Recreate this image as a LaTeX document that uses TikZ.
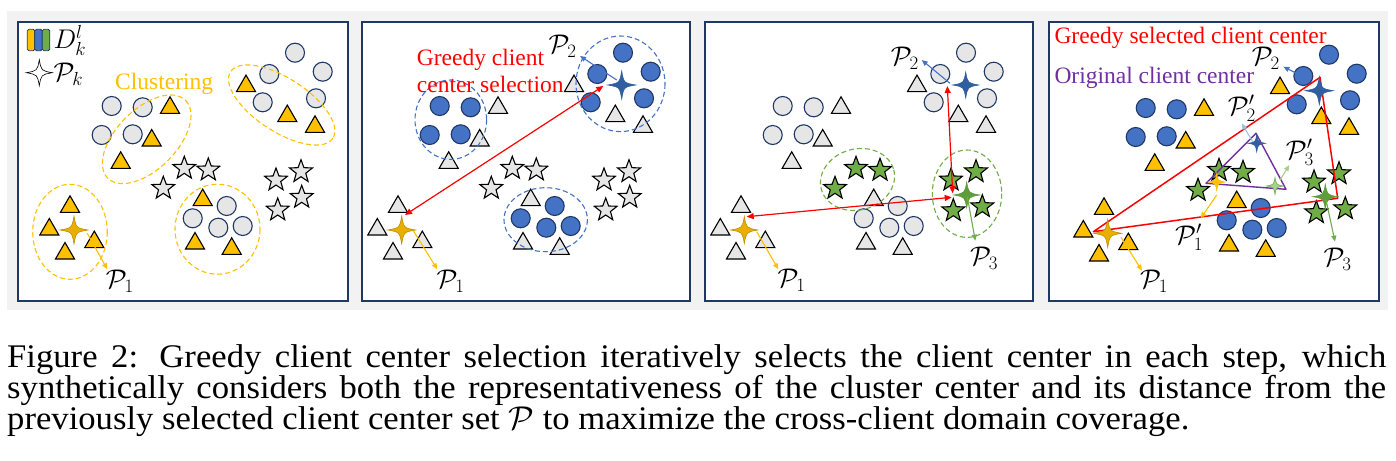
\RequirePackage{fix-cm}
\documentclass[tikz,border=0pt]{standalone}
\usepackage{fontspec}
\setmainfont{Liberation Serif}
\newfontfamily\notefont{Liberation Serif}
\newfontfamily\figcapfont[FakeStretch=1.05]{Liberation Serif}
\usetikzlibrary{shapes.geometric, arrows.meta, calc}
\lineskiplimit=-50pt

\definecolor{framenavy}{HTML}{203864}
\definecolor{bggray}{HTML}{F2F2F2}
\definecolor{dotgray}{HTML}{E7E6E6}
\definecolor{clustorange}{HTML}{FFC000}
\definecolor{clientblue}{HTML}{4472C4}
\definecolor{stargreen}{HTML}{70AD47}
\definecolor{greedyred}{HTML}{FF0000}
\definecolor{origpurple}{HTML}{7030A0}
\definecolor{sparkgold}{HTML}{E8AE00}
\definecolor{darkgold}{HTML}{BF9000}
\definecolor{sparkblue}{HTML}{2F5F9E}
\definecolor{sparkgreen}{HTML}{5E9C3C}
\definecolor{paleblue}{HTML}{9DC3E6}
\definecolor{palegreen}{HTML}{A9D18E}

% point layouts shared by the four panels
\newcommand{\dotpts}{295.0/52.7, 322.7/71.7, 269.3/74.0, 316.0/98.3, 262.7/102.3, 111.7/106.0, 142.7/107.3, 101.7/135.0, 132.7/134.3, 226.7/206.0, 192.7/218.3, 218.3/227.7, 242.7/226.0}
\newcommand{\tripts}{246.0/83.3, 287.3/113.3, 315.0/124.0, 170.0/105.0, 151.7/137.7, 120.7/160.0, 202.7/197.3, 195.0/240.7, 231.7/246.0, 70.0/204.0, 49.3/226.7, 94.3/239.3, 65.0/250.7}
\newcommand{\starpts}{184.3/168.3, 208.3/170.0, 163.3/188.3, 276.0/180.0, 301.0/171.7, 301.7/197.3, 277.7/210.0}
\newcommand{\movedstarpts}{185/168.3, 209/170.3, 164/188.3, 280/180, 305/171.7, 311.3/206.7, 282.3/210.7}

\tikzset{
  client/.style={circle, draw=framenavy, line width=1.1pt, minimum size=19pt, inner sep=0pt},
  tri/.style={regular polygon, regular polygon sides=3, draw=black, line width=1.1pt, minimum size=22pt, inner sep=0pt, yshift=-2.8pt},
  fivestar/.style={star, star points=5, star point ratio=2.4, draw=black, line width=1.1pt, minimum size=24pt, inner sep=0pt},
  cluster/.style={dash pattern=on 5pt off 3pt, line width=1.1pt},
  ptr/.style={-{Triangle[length=6pt, width=5pt]}, line width=1.1pt},
  greedy/.style={{Triangle[length=7pt, width=6pt]}-{Triangle[length=7pt, width=6pt]}, line width=1.2pt, draw=greedyred},
  plabel/.style={anchor=base west, inner sep=0pt, font=\fontsize{27}{30}\selectfont},
  note/.style={anchor=base west, inner sep=0pt, font=\notefont\fontsize{23.5}{26}\selectfont},
  panelbox/.style={draw=framenavy, line width=1.6pt, fill=white},
  pics/spark/.style n args={3}{code={
    \filldraw[fill=#1, draw=#2, line width=0.6pt] (#3,0) .. controls (0.15*#3,0.15*#3) .. (0,#3)
      .. controls (-0.15*#3,0.15*#3) .. (-#3,0) .. controls (-0.15*#3,-0.15*#3) .. (0,-#3)
      .. controls (0.15*#3,-0.15*#3) .. (#3,0) -- cycle;
  }}
}

\begin{document}
\begin{tikzpicture}[x=1pt, y=-1pt]
  \useasboundingbox (0,0) rectangle (1396,460);

  % Gray backdrop and panel frames
  \fill[bggray] (7,11) rectangle (1388,310);
  \draw[panelbox] (18,22) rectangle (348,301);
  \draw[panelbox] (362,22) rectangle (690,301);
  \draw[panelbox] (705,22) rectangle (1033,301);
  \draw[panelbox] (1049,22) rectangle (1379,301);

  % Panel 1: clustering inside each client
  \begin{scope}
    \foreach \x/\y [count=\i] in \dotpts \node[client, fill=dotgray] (a-c\i) at (\x,\y) {};
    \foreach \x/\y [count=\i] in \tripts \node[tri, fill=clustorange] (a-t\i) at (\x,\y) {};
    \foreach \x/\y [count=\i] in \starpts \node[fivestar, fill=dotgray] (a-s\i) at (\x,\y) {};

    % Clusters
    \draw[cluster, clustorange] (70,231.8) ellipse [x radius=37.3, y radius=47.5];
    \draw[cluster, clustorange, rotate around={45:(146.7,139.3)}] (146.7,139.3) ellipse [x radius=55, y radius=30];
    \draw[cluster, clustorange, rotate around={-33:(281.7,105)}] (281.7,105) ellipse [x radius=61, y radius=26.7];
    \draw[cluster, clustorange] (217.5,229.2) ellipse [x radius=42.5, y radius=45];
    \node[note, text=clustorange] (clustlbl) at (115,89.3) {Clustering};

    % Legend
    \foreach \c [count=\i] in {clustorange, clientblue, stargreen}
      \draw[fill=\c, draw=framenavy, line width=0.8pt, rounded corners=1.5pt] (19.8+7.5*\i,29.3) rectangle ++(7.5,21.4);
    \node[plabel] (dlbl) at (53.3,48.5) {$D_k^l$};
    \coordinate (a-key) at (39.3,72.7);
    \pic at (a-key) {spark={white}{black}{13}};
    \node[plabel] (pklbl) at (53.3,81.7) {$\mathcal{P}_k$};

    % First center
    \coordinate (a-gold) at (74,230);
    \coordinate (a-tip1) at (107.3,269.3);
    \pic at (a-gold) {spark={sparkgold}{darkgold}{14}};
    \draw[ptr, clustorange] ([shift={(13.3,3.3)}]a-gold) -- (a-tip1);
    \node[plabel] (a-p1) at (105.7,288) {$\mathcal{P}_1$};
  \end{scope}

  % Panel 2: greedy selection of the second center
  \begin{scope}[shift={(328,0)}]
    \foreach \x/\y [count=\i] in \dotpts \node[client, fill=clientblue] (b-c\i) at (\x,\y) {};
    \foreach \x/\y [count=\i] in \tripts \node[tri, fill=dotgray] (b-t\i) at (\x,\y) {};
    \foreach \x/\y [count=\i] in \starpts \node[fivestar, fill=dotgray] (b-s\i) at (\x,\y) {};

    \draw[cluster, clientblue] (122.8,119.7) ellipse [x radius=35.8, y radius=39.7];
    \draw[cluster, clientblue] (292.5,83.8) ellipse [x radius=44.5, y radius=47.8];
    \draw[cluster, clientblue] (217.7,219.7) ellipse [x radius=41.7, y radius=32];

    \node[note, text=greedyred] (b-txt1) at (88.7,65.7) {Greedy client};
    \node[note, text=greedyred] (b-txt2) at (88.7,92.3) {center selection};

    \coordinate (b-gold) at (73.7,230);
    \coordinate (b-blue) at (293.7,85);
    \coordinate (b-tip1) at (109.3,269.3);
    \coordinate (b-tip2) at (252,56);
    \draw[greedy] ([shift={(3.3,-15)}]b-gold) -- ([shift={(-18.4,1)}]b-blue);
    \pic at (b-gold) {spark={sparkgold}{darkgold}{14}};
    \pic at (b-blue) {spark={sparkblue}{sparkblue}{14}};
    \draw[ptr, clustorange] ([shift={(11.6,0.7)}]b-gold) -- (b-tip1);
    \draw[ptr, clientblue] ([shift={(-5,-5)}]b-blue) -- (b-tip2);
    \node[plabel] (b-p1) at (108.3,288.3) {$\mathcal{P}_1$};
    \node[plabel] (b-p2) at (220.3,53.3) {$\mathcal{P}_2$};
  \end{scope}

  % Panel 3: greedy selection of the third center
  \begin{scope}[shift={(671,0)}]
    \foreach \x/\y [count=\i] in \dotpts \node[client, fill=dotgray] (c-c\i) at (\x,\y) {};
    \foreach \x/\y [count=\i] in \tripts \node[tri, fill=dotgray] (c-t\i) at (\x,\y) {};
    \foreach \x/\y [count=\i] in \movedstarpts \node[fivestar, fill=stargreen] (c-s\i) at (\x,\y) {};

    \draw[cluster, stargreen, rotate around={15:(186.5,179.5)}] (186.5,179.5) ellipse [x radius=37.5, y radius=30.5];
    \draw[cluster, stargreen] (296,193.7) ellipse [x radius=34.7, y radius=43.7];

    \coordinate (c-gold) at (73.3,230);
    \coordinate (c-blue) at (294.7,85);
    \coordinate (c-green) at (295.7,195);
    \coordinate (c-tip1) at (107.3,269.3);
    \coordinate (c-tip2) at (250.7,60);
    \coordinate (c-tip3) at (304.3,240.7);
    \pic at (c-gold) {spark={sparkgold}{darkgold}{13.5}};
    \pic at (c-blue) {spark={sparkblue}{sparkblue}{13}};
    \pic at (c-green) {spark={sparkgreen}{sparkgreen}{13}};
    \draw[greedy] ([shift={(2.4,-13.3)}]c-gold) -- ([shift={(-15,2.3)}]c-green);
    \draw[greedy] ([shift={(-18.4,1)}]c-blue) -- ([shift={(-14,-1.7)}]c-green);
    \draw[ptr, clustorange] ([shift={(12.4,1.7)}]c-gold) -- (c-tip1);
    \draw[ptr, clientblue] ([shift={(-15.7,-1.7)}]c-blue) -- (c-tip2);
    \draw[ptr, stargreen] ([shift={(0.6,1.7)}]c-green) -- (c-tip3);
    \node[plabel] (c-p1) at (106.3,287.3) {$\mathcal{P}_1$};
    \node[plabel] (c-p2) at (219.7,65) {$\mathcal{P}_2$};
    \node[plabel] (c-p3) at (299,265) {$\mathcal{P}_3$};
  \end{scope}

  % Panel 4: greedy centers against the original centers
  \begin{scope}[shift={(1034,2)}]
    \foreach \x/\y [count=\i] in \dotpts \node[client, fill=clientblue] (d-c\i) at (\x,\y) {};
    \foreach \x/\y [count=\i] in \tripts \node[tri, fill=clustorange] (d-t\i) at (\x,\y) {};
    \foreach \x/\y [count=\i] in \movedstarpts \node[fivestar, fill=stargreen] (d-s\i) at (\x,\y) {};

    \node[note, text=greedyred] (d-txt1) at (20.3,42) {Greedy selected client center};
    \node[note, text=origpurple] (d-txt2) at (20.3,81.3) {Original client center};

    \coordinate (d-gold) at (73.7,231.3);
    \coordinate (d-blue) at (285.3,88.7);
    \coordinate (d-green) at (291.3,194.7);
    \coordinate (d-ogold) at (182.7,180);
    \coordinate (d-oblue) at (222.7,141.3);
    \coordinate (d-ogreen) at (241,184);
    \coordinate (d-tip1) at (108,268.7);
    \coordinate (d-tip2) at (249.3,64.7);
    \coordinate (d-tip3) at (301,239.7);
    \coordinate (d-otip1) at (166.7,216.3);
    \coordinate (d-otip2) at (207.7,121.3);
    \coordinate (d-otip3) at (255.3,163);

    % Coverage triangles
    \draw[greedyred, line width=1.5pt, line join=round] ([shift={(-14.4,-1.6)}]d-gold) -- ([shift={(0.7,-13.4)}]d-blue) -- ([shift={(12.4,1.6)}]d-green) -- cycle;
    \draw[origpurple, line width=1.4pt, line join=round] ([shift={(-10.7,1.3)}]d-ogold) -- ([shift={(-0.7,-10)}]d-oblue) -- ([shift={(11,3.3)}]d-ogreen) -- cycle;

    \pic at (d-gold) {spark={sparkgold}{darkgold}{14}};
    \pic at (d-blue) {spark={sparkblue}{sparkblue}{14}};
    \pic at (d-green) {spark={sparkgreen}{sparkgreen}{12.5}};
    \pic at (d-ogold) {spark={clustorange}{clustorange}{8.5}};
    \pic at (d-oblue) {spark={sparkblue}{sparkblue}{8.5}};
    \pic at (d-ogreen) {spark={palegreen}{stargreen}{8.5}};

    \draw[ptr, clustorange] ([shift={(13.3,4)}]d-gold) -- (d-tip1);
    \draw[ptr, clientblue] ([shift={(-21.6,-16.7)}]d-blue) -- (d-tip2);
    \draw[ptr, stargreen] ([shift={(0.7,3.3)}]d-green) -- (d-tip3);
    \draw[ptr, clustorange] ([shift={(0,13)}]d-ogold) -- (d-otip1);
    \draw[ptr, paleblue] ([shift={(-4,-1.6)}]d-oblue) -- (d-otip2);
    \draw[ptr, palegreen] ([shift={(5,-6)}]d-ogreen) -- (d-otip3);

    \node[plabel] (d-p1) at (106,286.3) {$\mathcal{P}_1$};
    \node[plabel] (d-p2) at (217.7,63.7) {$\mathcal{P}_2$};
    \node[plabel] (d-p3) at (289.3,264.7) {$\mathcal{P}_3$};
    \node[plabel] (d-q1) at (141,242) {$\mathcal{P}'_1$};
    \node[plabel] (d-q2) at (193.7,113) {$\mathcal{P}'_2$};
    \node[plabel] (d-q3) at (251.7,157.3) {$\mathcal{P}'_3$};
  \end{scope}

  % Caption
  \node[anchor=north west, inner sep=0pt, text width=1379pt, align=justify,
        font=\figcapfont\fontsize{33}{28.5}\selectfont] (caption) at (7,344)
    {Figure 2: Greedy client center selection iteratively selects the client center in each step, which\linebreak
     synthetically considers both the representativeness of the cluster center and its distance from the\linebreak
     previously selected client center set $\mathcal{P}$ to maximize the cross-client domain coverage.};
\end{tikzpicture}
\end{document}
